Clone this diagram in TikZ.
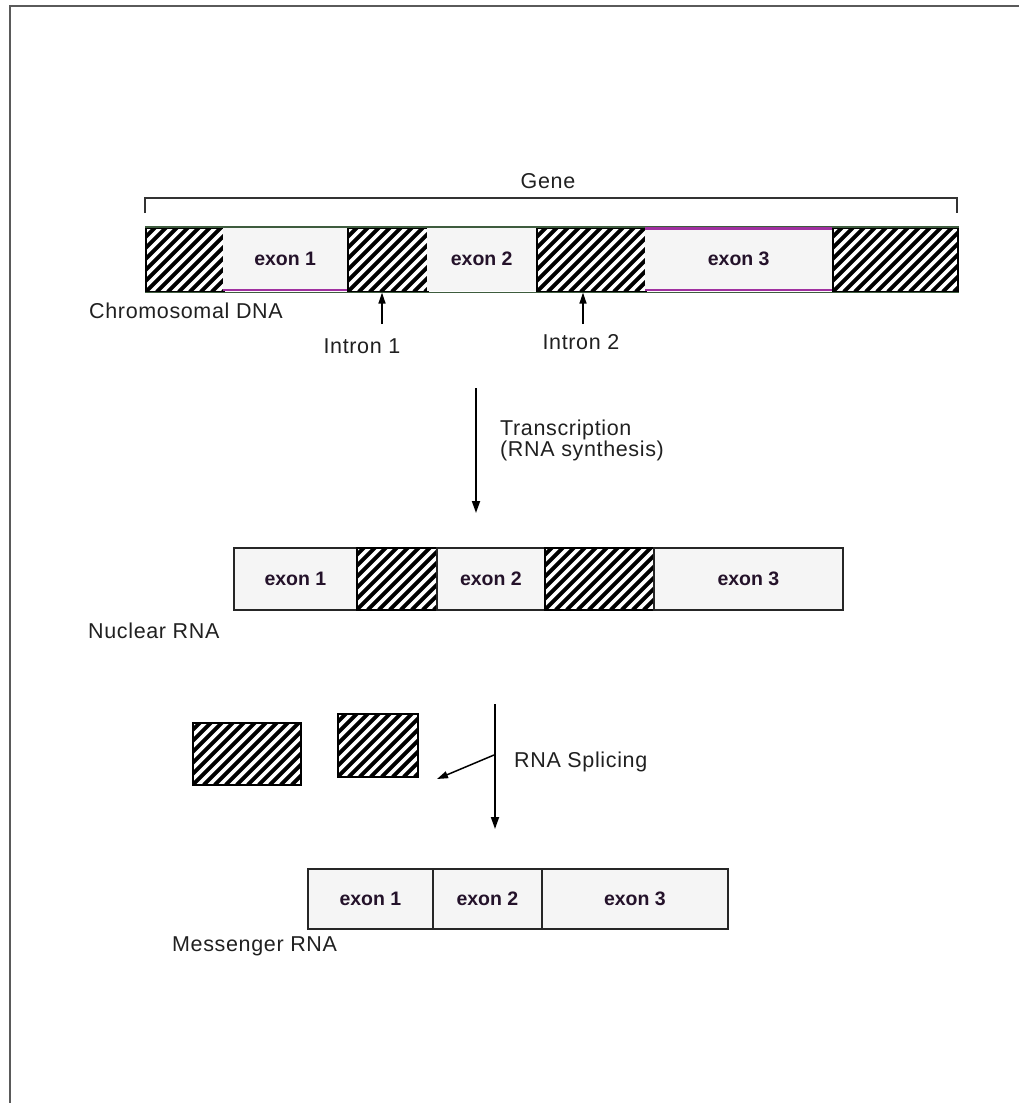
\documentclass[tikz,border=0pt]{standalone}
\usepackage{fontspec}
\setmainfont{Liberation Sans}
\newfontfamily\labelfamily[LetterSpace=3]{Liberation Sans}
\usetikzlibrary{arrows.meta}

\definecolor{exonfill}{HTML}{F5F5F5}
\definecolor{edgegreen}{HTML}{3E5C3E}
\definecolor{edgepurple}{HTML}{A030A0}
\definecolor{framegray}{HTML}{5A5A5A}
\definecolor{labelink}{HTML}{202020}
\definecolor{exonink}{HTML}{24122A}

\newcommand\labelfont{\labelfamily\fontsize{21.5pt}{21pt}\selectfont}
\newcommand\exonfont{\bfseries\fontsize{19.5pt}{20pt}\selectfont}

\begin{document}
\begin{tikzpicture}[x=1pt,y=-1pt,
  frameline/.style={draw=framegray,line width=2.5pt},
  exonbox/.style={rectangle,inner sep=0pt,anchor=north west,fill=exonfill,
    text=exonink,font=\exonfont},
  hatchbox/.style={rectangle,inner sep=0pt,anchor=north west,fill=white,
    draw=black,line width=1.6pt,
    path picture={
      \foreach \k in {-8,...,13}
        \draw[line width=4pt]
          ([xshift={\k*11pt}]path picture bounding box.south west) -- ++(150pt,150pt);
    }},
  lbl/.style={inner sep=0pt,text=labelink,font=\labelfont},
  arr/.style={-{Triangle[length=12pt,width=8pt]},line width=1.8pt},
  thinarr/.style={-{Triangle[length=11pt,width=7pt]},line width=1.5pt},
  bracket/.style={draw=black!80,line width=2pt},
  rnaedge/.style={draw=black!85,line width=1.8pt}
]
\useasboundingbox (0,0) rectangle (1019,1103);

% page frame (top and left edges)
\draw[frameline] (1019,6) -| (10,1103);

% ---------------- chromosomal DNA ----------------
\node[lbl] (gene) at (548,181) {Gene};
\coordinate (gl) at (145,213);
\coordinate (gr) at (957,213);
\draw[bracket] (gl) -- ++(0,-15) -| (gr);

\node[hatchbox,minimum width=78pt,minimum height=64pt] (d1) at (145,227) {};
\node[exonbox,minimum width=124pt,minimum height=64pt] (d2) at (223,227) {exon 1};
\node[hatchbox,minimum width=80pt,minimum height=64pt] (d3) at (347,227) {};
\node[exonbox,minimum width=109pt,minimum height=64pt] (d4) at (427,227) {exon 2};
\node[hatchbox,minimum width=109pt,minimum height=64pt] (d5) at (536,227) {};
\node[exonbox,minimum width=187pt,minimum height=64pt] (d6) at (645,227) {exon 3};
\node[hatchbox,minimum width=125pt,minimum height=64pt] (d7) at (832,227) {};

% edges of the DNA strip
\draw[edgegreen,line width=1.6pt] (d1.north west) -- (d7.north east);
\draw[edgegreen,line width=1.6pt] (d1.south west) -- (d7.south east);
\draw[edgepurple,line width=2.2pt] ([yshift=1.5pt]d2.south west) -- ([yshift=1.5pt]d2.south east);
\draw[edgepurple,line width=2.2pt] ([yshift=-1.5pt]d6.north west) -- ([yshift=-1.5pt]d6.north east);
\draw[edgepurple,line width=2.2pt] ([yshift=1.5pt]d6.south west) -- ([yshift=1.5pt]d6.south east);

\node[lbl,anchor=west] (dnalbl) at (89,311) {Chromosomal DNA};

% intron markers
\node[lbl] (in1) at (362,346) {Intron 1};
\node[lbl] (in2) at (581,342) {Intron 2};
\coordinate (i1) at (382,324);
\coordinate (i2) at (583,324);
\draw[thinarr] (i1) -- (i1 |- d3.south);
\draw[thinarr] (i2) -- (i2 |- d5.south);

% ---------------- transcription ----------------
\coordinate (tA) at (476,388);
\coordinate (tB) at (476,513);
\draw[arr] (tA) -- (tB);
\node[lbl,anchor=west,align=left] (trans) at (500,440)
  {Transcription\\(RNA synthesis)};

% ---------------- nuclear RNA ----------------
\node[exonbox,rnaedge,minimum width=123pt,minimum height=62pt] (n1) at (233,547) {exon 1};
\node[hatchbox,minimum width=80pt,minimum height=62pt] (n2) at (356,547) {};
\node[exonbox,rnaedge,minimum width=108pt,minimum height=62pt] (n3) at (436,547) {exon 2};
\node[hatchbox,minimum width=109pt,minimum height=62pt] (n4) at (544,547) {};
\node[exonbox,rnaedge,minimum width=189pt,minimum height=62pt] (n5) at (653,547) {exon 3};
\node[lbl,anchor=west] (nuclbl) at (88,631) {Nuclear RNA};

% ---------------- splicing ----------------
\node[hatchbox,minimum width=108pt,minimum height=62pt] (sa) at (192,722) {};
\node[hatchbox,minimum width=80pt,minimum height=63pt] (sb) at (337,713) {};
\coordinate (sA) at (495,704);
\coordinate (sB) at (495,829);
\coordinate (sM) at (494,755);
\coordinate (sC) at (437,779);
\draw[arr] (sA) -- (sB);
\draw[thinarr] (sM) -- (sC);
\node[lbl,anchor=west] (splice) at (514,762) {RNA Splicing};

% ---------------- messenger RNA ----------------
\node[exonbox,rnaedge,minimum width=125pt,minimum height=60pt] (m1) at (307,868) {exon 1};
\node[exonbox,rnaedge,minimum width=109pt,minimum height=60pt] (m2) at (432,868) {exon 2};
\node[exonbox,rnaedge,minimum width=186pt,minimum height=60pt] (m3) at (541,868) {exon 3};
\node[lbl,anchor=west] (mrnalbl) at (172,946) {Messenger RNA};
\end{tikzpicture}
\end{document}
